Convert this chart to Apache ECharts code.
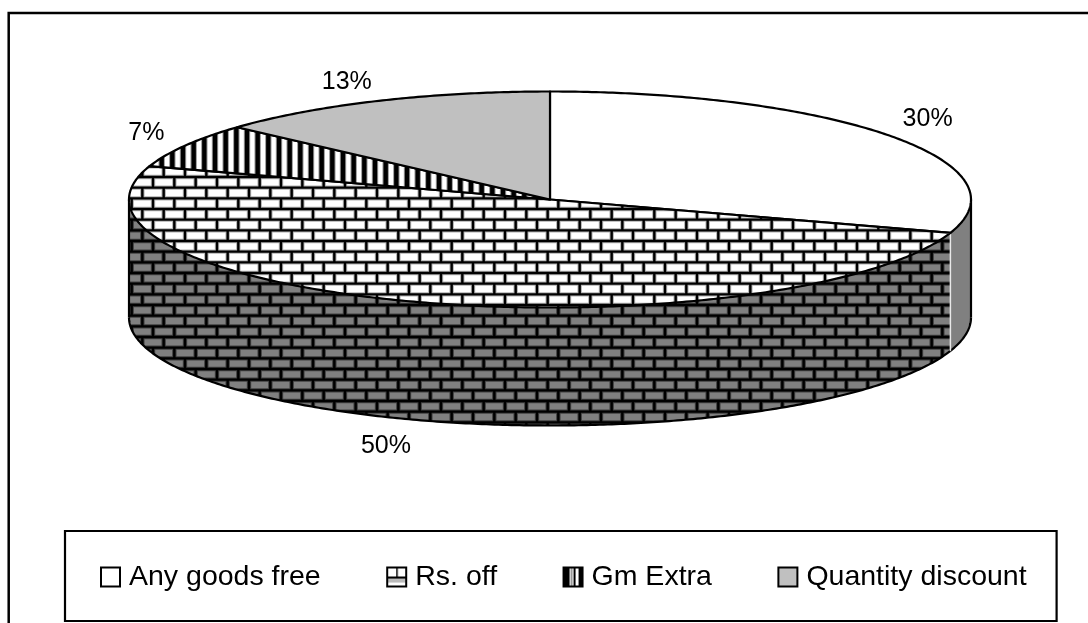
<!DOCTYPE html>
<html>
<head>
<meta charset="utf-8">
<style>html,body{margin:0;padding:0;background:#fff}#c{width:1088px;height:623px}</style>
<script src="https://cdn.jsdelivr.net/npm/echarts@6/dist/echarts.min.js"></script>
</head>
<body>
<div id="c"></div>
<script>
// ---- data ----
var categories = ['Any goods free', 'Rs. off', 'Gm Extra', 'Quantity discount'];
var shareValues = [30, 50, 6.67, 13.33];

// ---- layout and styling (separate from data) ----
var CX = 550, CY = 199.5, RX = 421, RY = 108, DEPTH = 118;
var labelNudge = [[37, -17], [-34, 26], [-39, -12], [-32, -19]];
var FONT = '"Liberation Sans", Arial, sans-serif';

function tile(size, draw) {
  var c = document.createElement('canvas');
  c.width = c.height = size;
  draw(c.getContext('2d'), size);
  return c;
}
function brickPaths(g, s) {
  var h = 32 / 3, w = 64 / 3, y0 = 6.33, x0 = 3.67;
  g.beginPath();
  for (var r = -1; r < 8; r++) {
    var y = y0 + r * h;
    g.moveTo(0, y); g.lineTo(s, y);
    var shift = ((r % 2) + 2) % 2 ? h : 0;
    for (var k = -1; k < 5; k++) {
      var x = x0 + shift + k * w;
      g.moveTo(x, y); g.lineTo(x, y + h);
    }
  }
}
function brickTile(bg, halo) {
  return tile(64, function (g, s) {
    g.fillStyle = bg; g.fillRect(0, 0, s, s);
    brickPaths(g, s);
    g.strokeStyle = halo; g.lineWidth = 4.4; g.stroke();
    g.strokeStyle = '#000'; g.lineWidth = 2.4; g.stroke();
  });
}
var stripeTile = tile(64, function (g, s) {
  g.fillStyle = '#fff'; g.fillRect(0, 0, s, s);
  for (var k = -1; k < 7; k++) {
    var x = 1.67 + k * 32 / 3;
    g.fillStyle = '#999'; g.fillRect(x - 3.2, 0, 6.4, s);
    g.fillStyle = '#000'; g.fillRect(x - 2.2, 0, 4.4, s);
  }
});
function pat(img) { return { image: img, repeat: 'repeat' }; }

var topFill = ['#ffffff', pat(brickTile('#ffffff', '#b0b0b0')), pat(stripeTile), '#c0c0c0'];
var wallFill = ['#808080', pat(brickTile('#808080', '#404040')), '#808080', '#606060'];

var legendIcons = [
  '#ffffff',
  pat(tile(19, function (g) {
    g.fillStyle = '#fff'; g.fillRect(0, 0, 19, 19);
    g.fillStyle = '#bbb'; g.fillRect(0, 10, 19, 5);
    g.fillStyle = '#000'; g.fillRect(0, 9, 19, 2); g.fillRect(9, 0, 1.5, 9);
  })),
  pat(tile(19, function (g) {
    g.fillStyle = '#fff'; g.fillRect(0, 0, 19, 19);
    g.fillStyle = '#000'; g.fillRect(0, 0, 6, 19); g.fillRect(10, 0, 2, 19); g.fillRect(15, 0, 4, 19);
    g.fillStyle = '#999'; g.fillRect(7, 0, 2, 19);
  })),
  '#c0c0c0'
];

// Convert values to clockwise angles from 12 o'clock
var total = shareValues.reduce(function (a, b) { return a + b; }, 0);
function startOf(i) {
  var s = 0;
  for (var k = 0; k < i; k++) s += shareValues[k];
  return s / total * Math.PI * 2;
}
function pt(t, dy) {
  return [CX + RX * Math.sin(t), CY - RY * Math.cos(t) + (dy || 0)];
}
function arc(a, b, dy) {
  var n = Math.max(2, Math.ceil((b - a) / 0.01)), out = [];
  for (var i = 0; i <= n; i++) out.push(pt(a + (b - a) * i / n, dy));
  return out;
}

function renderSlice(params, api) {
  var i = params.seriesIndex;
  var value = api.value(0);
  var a = startOf(i), b = a + value / total * Math.PI * 2;
  var kids = [];
  var lo = Math.max(a, Math.PI / 2), hi = Math.min(b, Math.PI * 1.5);
  if (hi > lo) {
    var topArc = arc(lo, hi, 0), botArc = arc(lo, hi, DEPTH);
    kids.push({ type: 'polygon', z2: 1,
      shape: { points: topArc.concat(botArc.slice().reverse()) },
      style: { fill: wallFill[i], stroke: null } });
    kids.push({ type: 'polyline', z2: 3, shape: { points: botArc },
      style: { fill: null, stroke: '#000', lineWidth: 2.2 } });
    if (lo === Math.PI / 2 || hi === Math.PI * 1.5) {
      var edge = lo === Math.PI / 2 ? lo : hi;
      kids.push({ type: 'line', z2: 3,
        shape: { x1: pt(edge)[0], y1: pt(edge)[1], x2: pt(edge)[0], y2: pt(edge, DEPTH)[1] },
        style: { stroke: '#000', lineWidth: 2.2 } });
    }
    if (a > Math.PI / 2 && a < Math.PI * 1.5) {
      kids.push({ type: 'line', z2: 4,
        shape: { x1: pt(a)[0], y1: pt(a)[1], x2: pt(a)[0], y2: pt(a, DEPTH)[1] },
        style: { stroke: '#e8e8e8', lineWidth: 1.5 } });
    }
  }
  kids.push({ type: 'polygon', z2: 10,
    shape: { points: [[CX, CY]].concat(arc(a, b, 0)) },
    style: { fill: topFill[i], stroke: '#000', lineWidth: 2.2, lineJoin: 'round' } });
  var m = (a + b) / 2;
  var onWall = m > Math.PI / 2 && m < Math.PI * 1.5 ? DEPTH : 0;
  var p = pt(m, onWall);
  kids.push({ type: 'text', z2: 20,
    style: { text: Math.round(value / total * 100) + '%',
      x: p[0] + labelNudge[i][0], y: p[1] + labelNudge[i][1],
      fill: '#000', font: '25px ' + FONT, align: 'center', verticalAlign: 'middle' } });
  return { type: 'group', children: kids };
}

var chart = echarts.init(document.getElementById('c'), null, { renderer: 'canvas' });
chart.setOption({
  animation: false,
  backgroundColor: '#ffffff',
  tooltip: { show: false },
  graphic: [{
    type: 'rect', silent: true, z: 0,
    shape: { x: 8.7, y: 13, width: 1300, height: 900 },
    style: { fill: null, stroke: '#000', lineWidth: 2.5 }
  }],
  legend: {
    left: 65, top: 531,
    orient: 'horizontal',
    selectedMode: false,
    icon: 'rect',
    itemWidth: 19, itemHeight: 19,
    itemGap: 65.5,
    padding: [31, 30, 29, 35],
    backgroundColor: '#fff',
    borderColor: '#000', borderWidth: 2.2,
    textStyle: { color: '#000', fontFamily: FONT, fontSize: 28.5, padding: [0, 0, 0, 4], lineHeight: 30 },
    data: categories.map(function (n, i) {
      return { name: n, itemStyle: { color: legendIcons[i], borderColor: '#000', borderWidth: 2 } };
    })
  },
  series: categories.map(function (n, i) {
    return {
      type: 'custom', name: n, coordinateSystem: 'none', silent: true,
      itemStyle: { color: '#fff' },
      renderItem: renderSlice,
      data: [[shareValues[i]]]
    };
  })
});
</script>
</body>
</html>
